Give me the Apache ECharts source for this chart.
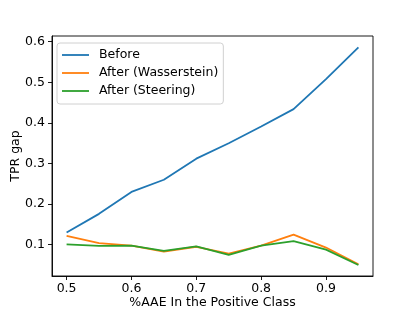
<!DOCTYPE html>
<html><head><meta charset="utf-8">
<script src="https://cdn.jsdelivr.net/npm/echarts@6/dist/echarts.min.js"></script>
<style>html,body{margin:0;padding:0;background:#fff}#c{width:415px;height:311px}</style>
</head><body><div id="c"></div>
<script>
const xValues = [0.5, 0.55, 0.6, 0.65, 0.7, 0.75, 0.8, 0.85, 0.9, 0.95];
const before = [0.130, 0.176, 0.230, 0.260, 0.312, 0.350, 0.391, 0.434, 0.508, 0.586];
const afterWasserstein = [0.122, 0.104, 0.098, 0.083, 0.095, 0.078, 0.098, 0.125, 0.093, 0.052];
const afterSteering = [0.101, 0.097, 0.098, 0.085, 0.096, 0.075, 0.098, 0.109, 0.088, 0.050];
const xTicks = [0.5, 0.6, 0.7, 0.8, 0.9];
const yTicks = [0.1, 0.2, 0.3, 0.4, 0.5, 0.6];

const font = 'DejaVu Sans';
const fs = 12.5;
const pair = arr => xValues.map((x, i) => [x, arr[i]]);
const mk = (name, data, color) => ({
  name, type: 'line', data: pair(data), symbol: 'none', showSymbol: false,
  lineStyle: { color, width: 1.8 }, itemStyle: { color }, animation: false
});
const chart = echarts.init(document.getElementById('c'), null, { renderer: 'canvas' });
chart.setOption({
  animation: false,
  grid: { left: 52, right: 42, top: 36, bottom: 35, containLabel: false, outerBoundsMode: 'none',
    show: true, borderColor: '#000', borderWidth: 0.9, backgroundColor: 'transparent' },
  legend: {
    orient: 'vertical', left: 57, top: 43, padding: [5, 5, 6, 5],
    backgroundColor: 'rgba(255,255,255,0.8)', borderColor: '#d0d0d0', borderWidth: 1, borderRadius: 3,
    icon: 'rect', itemWidth: 27, itemHeight: 1.8, itemGap: 4,
    textStyle: { fontFamily: font, fontSize: fs, lineHeight: 14, color: '#000', padding: [0, 0, 0, 5] },
    data: ['Before', 'After (Wasserstein)', 'After (Steering)']
  },
  xAxis: {
    type: 'value', min: 0.4775, max: 0.9725,
    name: '%AAE In the Positive Class', nameLocation: 'middle', nameGap: 20, nameMoveOverlap: false,
    nameTextStyle: { fontFamily: font, fontSize: fs, color: '#000' },
    axisLine: { show: true, lineStyle: { color: '#000', width: 0.9 } },
    axisTick: { show: true, length: 4, lineStyle: { color: '#000', width: 0.9 }, customValues: xTicks },
    axisLabel: { fontFamily: font, fontSize: fs, color: '#000', margin: 6, customValues: xTicks, formatter: v => (+v).toFixed(1) },
    splitLine: { show: false }
  },
  yAxis: {
    type: 'value', min: 0.023, max: 0.614,
    name: 'TPR gap', nameLocation: 'middle', nameGap: 30, nameRotate: 90, nameMoveOverlap: false,
    nameTextStyle: { fontFamily: font, fontSize: fs, color: '#000' },
    axisLine: { show: true, lineStyle: { color: '#000', width: 0.9 } },
    axisTick: { show: true, length: 4, lineStyle: { color: '#000', width: 0.9 }, customValues: yTicks },
    axisLabel: { fontFamily: font, fontSize: fs, color: '#000', margin: 7, customValues: yTicks, formatter: v => (+v).toFixed(1) },
    splitLine: { show: false }
  },
  series: [
    mk('Before', before, '#1f77b4'),
    mk('After (Wasserstein)', afterWasserstein, '#ff7f0e'),
    mk('After (Steering)', afterSteering, '#2ca02c')
  ]
});
</script></body></html>
